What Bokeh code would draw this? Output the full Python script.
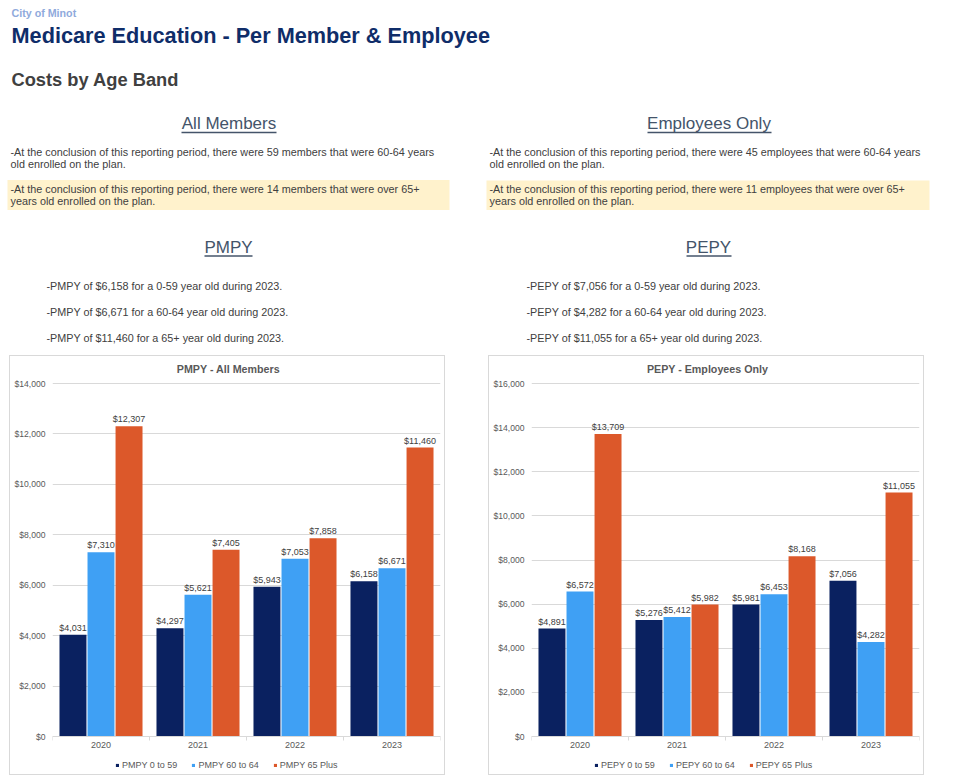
from bokeh.plotting import figure
from bokeh.layouts import column, row
from bokeh.models import (Range1d, FactorRange, ColumnDataSource, NumeralTickFormatter,
                          FixedTicker, Legend, LegendItem, Label, Spacer)
from bokeh.transform import dodge
from bokeh.core.properties import value
from bokeh.embed import file_html
from bokeh.resources import INLINE

# ---------------- data ----------------
years = ["2020", "2021", "2022", "2023"]

pmpy_0_59 = [4031, 4297, 5943, 6158]
pmpy_60_64 = [7310, 5621, 7053, 6671]
pmpy_65_plus = [12307, 7405, 7858, 11460]

pepy_0_59 = [4891, 5276, 5981, 7056]
pepy_60_64 = [6572, 5412, 6453, 4282]
pepy_65_plus = [13709, 5982, 8168, 11055]

pmpy_ticks = [0, 2000, 4000, 6000, 8000, 10000, 12000, 14000]
pepy_ticks = [0, 2000, 4000, 6000, 8000, 10000, 12000, 14000, 16000]

pmpy_series = ["PMPY 0 to 59", "PMPY 60 to 64", "PMPY 65 Plus"]
pepy_series = ["PEPY 0 to 59", "PEPY 60 to 64", "PEPY 65 Plus"]

members_60_64 = 59
members_65_plus = 14
employees_60_64 = 45
employees_65_plus = 11
report_year = "2023"

# ---------------- styles ----------------
FONT = "Liberation Sans"
NAVY = "#0a2160"
LIGHT = "#3fa0f4"
ORANGE = "#dc582a"
COLORS = [NAVY, LIGHT, ORANGE]
TXT = "#404040"
SLATE = "#44546a"
AXIS_TXT = "#595959"
GRID = "#d9d9d9"

# ---------------- header ----------------
hdr = figure(width=948, height=355, x_range=Range1d(0, 948), y_range=Range1d(355, 0),
             output_backend="svg", toolbar_location=None, min_border=0,
             x_axis_location=None, y_axis_location=None)
hdr.grid.visible = False
hdr.outline_line_color = None

hdr.quad(left=[7, 486], right=[449, 929], top=[179.5, 180], bottom=[209.5, 209.5],
         fill_color="#fff2cc", line_color=None)


def txt(x, y, s, size, color, bold=False, align="left"):
    hdr.text(x=[x], y=[y], text=[s], text_font=value(FONT), text_font_size=size,
             text_color=color, text_font_style="bold" if bold else "normal",
             text_align=align, text_baseline="middle")


txt(11, 12, "City of Minot", "10.7px", "#8faadc", bold=True)
txt(11, 35, "Medicare Education - Per Member & Employee", "21.7px", "#0f2d69", bold=True)
txt(11, 79, "Costs by Age Band", "18.3px", TXT, bold=True)

txt(228.5, 123, "All Members", "17px", SLATE, align="center")
txt(708.5, 123, "Employees Only", "17px", SLATE, align="center")
txt(228, 247, "PMPY", "17px", SLATE, align="center")
txt(708, 247, "PEPY", "17px", SLATE, align="center")
hdr.segment(x0=[181, 647, 204, 686], y0=[132, 132, 255.5, 255.5],
            x1=[276, 771, 252, 731], y1=[132, 132, 255.5, 255.5],
            line_color=SLATE, line_width=1.3)

P = "10.8px"
txt(10, 151.5, f"-At the conclusion of this reporting period, there were {members_60_64} members that were 60-64 years", P, TXT)
txt(10, 163.5, "old enrolled on the plan.", P, TXT)
txt(10, 188, f"-At the conclusion of this reporting period, there were {members_65_plus} members that were over 65+", P, TXT)
txt(10, 200.5, "years old enrolled on the plan.", P, TXT)

txt(489, 151.5, f"-At the conclusion of this reporting period, there were {employees_60_64} employees that were 60-64 years", P, TXT)
txt(489, 163.5, "old enrolled on the plan.", P, TXT)
txt(489, 188, f"-At the conclusion of this reporting period, there were {employees_65_plus} employees that were over 65+", P, TXT)
txt(489, 200.5, "years old enrolled on the plan.", P, TXT)

txt(46, 285, f"-PMPY of  ${pmpy_0_59[-1]:,} for a 0-59 year old during {report_year}.", P, TXT)
txt(46, 311, f"-PMPY of ${pmpy_60_64[-1]:,} for a 60-64 year old during {report_year}.", P, TXT)
txt(46, 337.5, f"-PMPY of ${pmpy_65_plus[-1]:,} for a 65+ year old during {report_year}.", P, TXT)

txt(526, 285, f"-PEPY of ${pepy_0_59[-1]:,} for a 0-59 year old during {report_year}.", P, TXT)
txt(526, 311, f"-PEPY of ${pepy_60_64[-1]:,} for a 60-64 year old during {report_year}.", P, TXT)
txt(526, 337.5, f"-PEPY of ${pepy_65_plus[-1]:,} for a 65+ year old during {report_year}.", P, TXT)


# ---------------- charts ----------------
CW, CH = 436, 420          # canvas inside a 1px CSS border -> 438 x 422 box
F_TOP, F_BOT = 1, 418      # frame extent (canvas px)
Y_MAX_PX, Y_ZERO_PX = 27, 380   # where the top tick and $0 sit (canvas px)


def make_chart(title, names, series, ticks):
    ymax = ticks[-1]
    per_px = ymax / (Y_ZERO_PX - Y_MAX_PX)
    p = figure(width=CW, height=CH, x_range=FactorRange(factors=years),
               y_range=Range1d(-(F_BOT - Y_ZERO_PX) * per_px, ymax + (Y_MAX_PX - F_TOP) * per_px),
               output_backend="svg", toolbar_location=None,
               min_border_left=42, min_border_right=6, min_border_top=F_TOP,
               min_border_bottom=CH - F_BOT,
               styles={"border": "1px solid #d9d9d9"})
    p.title.visible = False
    p.outline_line_color = None
    p.xgrid.grid_line_color = None
    p.ygrid.grid_line_color = GRID
    p.ygrid.ticker = FixedTicker(ticks=ticks)

    p.yaxis.ticker = FixedTicker(ticks=ticks)
    p.yaxis.formatter = NumeralTickFormatter(format="$0,0")
    p.yaxis.axis_line_color = None
    p.yaxis.major_tick_line_color = None
    p.yaxis.minor_tick_line_color = None
    p.yaxis.major_tick_out = 0
    p.yaxis.major_tick_in = 0
    p.yaxis.minor_tick_out = 0
    p.yaxis.minor_tick_in = 0
    p.yaxis.major_label_standoff = 7
    p.yaxis.major_label_text_font = FONT
    p.yaxis.major_label_text_font_size = "8.6px"
    p.yaxis.major_label_text_color = AXIS_TXT

    p.xaxis.fixed_location = 0
    p.xaxis.axis_line_color = GRID
    p.xaxis.major_tick_line_color = None
    p.xaxis.major_tick_out = 0
    p.xaxis.major_tick_in = 0
    p.xaxis.major_label_standoff = 5
    p.xaxis.major_label_text_font = FONT
    p.xaxis.major_label_text_font_size = "9px"
    p.xaxis.major_label_text_color = AXIS_TXT

    # small tick marks at the category boundaries, below the $0 line
    bounds = list(range(len(years) + 1))
    p.segment(x0=bounds, x1=bounds, y0=[0] * len(bounds), y1=[-4 * per_px] * len(bounds),
              line_color=GRID, line_width=1)

    offsets = [-0.289, 0.0, 0.289]
    items = []
    for name, vals, color, off in zip(names, series, COLORS, offsets):
        src = ColumnDataSource(dict(year=years, v=vals, lab=[f"${v:,}" for v in vals]))
        r = p.vbar(x=dodge("year", off, range=p.x_range), top="v", width=0.278,
                   source=src, fill_color=color, line_color=None)
        p.text(x=dodge("year", off, range=p.x_range), y="v", text="lab", source=src,
               text_font=value(FONT), text_font_size="9px", text_color=TXT,
               text_align="center", text_baseline="bottom", y_offset=-2)
        items.append(LegendItem(label=name, renderers=[r]))

    leg = Legend(items=items, orientation="horizontal", location=(63, 3),
                 glyph_width=4, glyph_height=4, label_standoff=3, spacing=14,
                 padding=2, margin=0, border_line_color=None, background_fill_alpha=0,
                 label_text_font=FONT, label_text_font_size="9px",
                 label_text_color=AXIS_TXT, label_height=12)
    p.add_layout(leg)

    p.add_layout(Label(x=CW / 2 - 42, y=F_BOT - 12, x_units="screen", y_units="screen",
                       text=title, text_align="center", text_baseline="middle",
                       text_font=FONT, text_font_size="10.7px", text_font_style="bold",
                       text_color=AXIS_TXT))
    return p


left = make_chart("PMPY - All Members", pmpy_series,
                  [pmpy_0_59, pmpy_60_64, pmpy_65_plus], pmpy_ticks)
right = make_chart("PEPY - Employees Only", pepy_series,
                   [pepy_0_59, pepy_60_64, pepy_65_plus], pepy_ticks)

layout = column(hdr, row(Spacer(width=9, height=422), left, Spacer(width=43, height=422), right))

open("out.html", "w").write(file_html(layout, INLINE))
